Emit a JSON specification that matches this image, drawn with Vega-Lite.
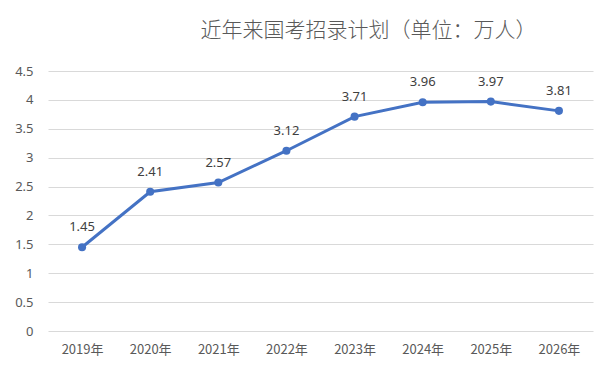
{
  "$schema": "https://vega.github.io/schema/vega-lite/v6.json",
  "width": 545,
  "height": 260,
  "autosize": {"type": "none"},
  "padding": {"left": 48, "top": 71, "right": 23, "bottom": 45},
  "background": "white",
  "title": {
    "text": "近年来国考招录计划（单位：万人）",
    "anchor": "middle",
    "frame": "group",
    "dx": 48,
    "offset": 24,
    "font": "Noto Sans CJK SC",
    "fontSize": 21,
    "fontWeight": 300,
    "color": "#595959"
  },
  "data": {
    "values": [
      {"year": "2019年", "value": 1.45},
      {"year": "2020年", "value": 2.41},
      {"year": "2021年", "value": 2.57},
      {"year": "2022年", "value": 3.12},
      {"year": "2023年", "value": 3.71},
      {"year": "2024年", "value": 3.96},
      {"year": "2025年", "value": 3.97},
      {"year": "2026年", "value": 3.81}
    ]
  },
  "encoding": {
    "x": {
      "field": "year",
      "type": "ordinal",
      "sort": null,
      "scale": {"type": "point", "padding": 0.5},
      "axis": {
        "title": null,
        "labelAngle": 0,
        "ticks": false,
        "domain": false,
        "grid": false,
        "labelPadding": 12,
        "labelFont": "Noto Sans CJK SC",
        "labelFontSize": 13,
        "labelColor": "#595959"
      }
    },
    "y": {
      "field": "value",
      "type": "quantitative",
      "scale": {"domain": [0, 4.5], "nice": false},
      "axis": {
        "title": null,
        "values": [0, 0.5, 1, 1.5, 2, 2.5, 3, 3.5, 4, 4.5],
        "format": "~g",
        "ticks": false,
        "domain": false,
        "gridColor": "#d9d9d9",
        "gridWidth": 1,
        "labelPadding": 15,
        "labelFont": "Noto Sans",
        "labelFontSize": 13,
        "labelColor": "#595959"
      }
    }
  },
  "layer": [
    {
      "mark": {"type": "line", "color": "#4472C4", "strokeWidth": 3}
    },
    {
      "mark": {"type": "point", "filled": true, "color": "#4472C4", "size": 65, "opacity": 1}
    },
    {
      "mark": {"type": "text", "dy": -20, "font": "Noto Sans", "fontSize": 13, "color": "#404040"},
      "encoding": {"text": {"field": "value", "type": "quantitative", "format": ".2f"}}
    }
  ],
  "config": {"view": {"stroke": null}}
}
